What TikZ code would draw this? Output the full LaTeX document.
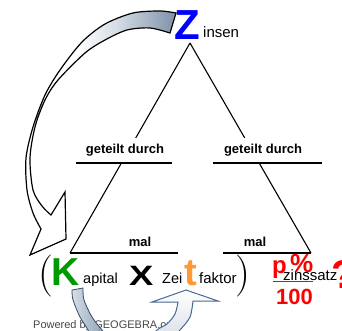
\documentclass[tikz,border=0pt]{standalone}
\usepackage{fontspec}
\newfontfamily\arialf{Liberation Sans}
\newcommand\fsz[1]{\fontsize{#1}{#1}\selectfont}
\definecolor{zblue}{RGB}{0,0,255}
\definecolor{kgreen}{RGB}{0,153,0}
\definecolor{torange}{RGB}{255,153,51}
\definecolor{pred}{RGB}{255,0,0}
\definecolor{arrgray}{RGB}{125,145,170}
\definecolor{arrlight}{RGB}{215,222,230}
\definecolor{arrblue}{RGB}{70,105,150}
\definecolor{ggray}{RGB}{70,70,70}
\pgfdeclarehorizontalshading{bigarrow}{100bp}{color(0bp)=(white); color(25bp)=(white); color(42bp)=(white); color(55bp)=(arrlight); color(75bp)=(arrgray); color(100bp)=(arrgray)}

\begin{document}
\begin{tikzpicture}[x=1pt,y=-1pt]
\tikzset{txt/.style={inner sep=0pt,anchor=base west,font=\arialf\fsz{15}},
  big/.style={inner sep=0pt,anchor=base west},
  gd/.style={fill=white,inner sep=0pt,minimum height=25,font=\arialf\bfseries\fsz{13}},
  ml/.style={inner sep=0pt,anchor=base,font=\arialf\bfseries\fsz{13}},
  tri/.style={line width=1.1}}
\useasboundingbox (0,0) rectangle (342,331);
\clip (0,0) rectangle (342,331);

% triangle
\coordinate (top) at (190,43);
\coordinate (bl) at (70,253);
\coordinate (br) at (311,253);
\coordinate (mlE) at (178,253);
\coordinate (mrW) at (223,253);
\coordinate (gdLW) at (76,163);
\coordinate (gdLE) at (172,163);
\coordinate (gdRW) at (213,163);
\coordinate (gdRE) at (322,163);
\draw[tri] (top) -- (bl);
\draw[tri] (top) -- (br);
\node[gd] (gdL) at (125,150.5) {geteilt durch};
\node[gd] (gdR) at (263,150.5) {geteilt durch};
\draw[tri] (gdLW) -- (gdLE);
\draw[tri] (gdRW) -- (gdRE);
\draw[tri] (bl) -- (mlE);
\draw[tri] (mrW) -- (br);
\node[ml] (malL) at (140,246) {mal};
\node[ml] (malR) at (255,246) {mal};

% formula
\node[big,font=\arialf\bfseries\fsz{42},text=zblue] (Z) at (174,40) {Z};
\node[txt] (insen) at (203,38) {insen};
\node[big,font=\fsz{42}] (lp) at (38,286) {(};
\node[big,font=\arialf\bfseries\fsz{39},text=kgreen] (K) at (51,285) {K};
\node[txt,font=\arialf\fsz{14.5}] (apital) at (83,283) {apital};
\node[big,font=\arialf\bfseries\fsz{28}] (X) at (129,285) {\scalebox{1.3}[1]{X}};
\node[txt,font=\arialf\fsz{14.5}] (Zei) at (162,283) {Zei};
\node[big,font=\arialf\bfseries\fsz{38},text=torange] (t) at (184,285) {t};
\node[txt] (faktor) at (199,283) {faktor};
\node[big,font=\fsz{42}] (rp) at (235,286) {)};
\node[big,font=\arialf\bfseries\fsz{24},text=pred] (p) at (272,273) {p};
\node[big,font=\arialf\bfseries\fsz{26},text=pred] (pct) at (290,272) {\%};
\node[txt] (zins) at (283,280) {zinssatz};
\coordinate (fl) at (273,281.5);
\coordinate (fr) at (313,281.5);
\draw[pred,line width=1.5] (fl) -- (fr);
\node[big,font=\arialf\bfseries\fsz{22},text=pred] (hundert) at (276,304) {100};
\node[big,font=\arialf\bfseries\fsz{40},text=pred] (q) at (331,288) {?};
\node[txt,font=\arialf\fsz{11},text=ggray] (gg) at (33,328) {Powered by GEOGEBRA.org};

% arrows
\shadedraw[shading=bigarrow,line width=1.2] plot[smooth] coordinates {(176,13) (160,11) (133,13) (105,24) (82,42) (60,70) (45,95) (33,127) (26,158) (27,190) (33,213) (41,229)}
  -- (30,255) -- (66,239) -- (65,192)
  -- plot[smooth] coordinates {(51,215) (42,206) (33,190) (30,158) (35,127) (45,100) (58,80) (85,53) (105,40) (127,30) (150,28) (170,33)} -- cycle;
\shadedraw[left color=arrlight,right color=arrgray,draw=arrblue!70!black,line width=0.8] (72,290) -- (83,288)
  -- plot[smooth] coordinates {(83,288) (84,300) (92,317) (102,330) (112,342)}
  -- plot[smooth] coordinates {(94,345) (88,330) (80,317) (73,300) (72,290)} -- cycle;
\shadedraw[top color=white,bottom color=arrlight,draw=arrblue,line width=1] (152,302) -- (186,290) -- (218,301)
  -- plot[smooth] coordinates {(193,301) (190,317) (180,330) (168,342)}
  -- plot[smooth] coordinates {(148,342) (157,330) (167,324) (175,314) (178,302)} -- cycle;
\end{tikzpicture}
\end{document}
